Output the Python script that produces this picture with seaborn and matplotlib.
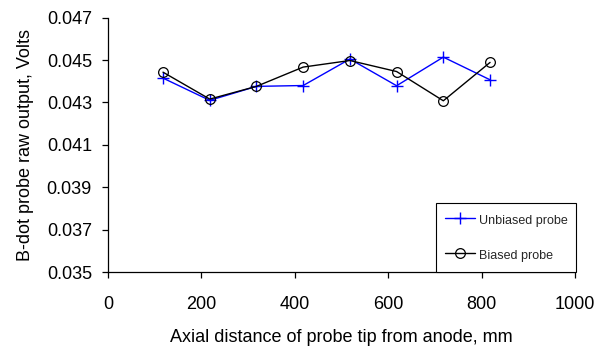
import matplotlib
matplotlib.use("Agg")
import matplotlib.pyplot as plt
import seaborn as sns
import pandas as pd

# Probe positions along the axis (mm) and measured B-dot outputs (V)
distance_mm = [118, 218, 318, 418, 518, 618, 718, 818]
unbiased_v = [0.04415, 0.0431, 0.04376, 0.0438, 0.04505, 0.04379, 0.04514, 0.04407]
biased_v = [0.04443, 0.04316, 0.04376, 0.04467, 0.04498, 0.04446, 0.04308, 0.04489]

x_ticks = [0, 200, 400, 600, 800, 1000]
y_ticks = [0.035, 0.037, 0.039, 0.041, 0.043, 0.045, 0.047]

sns.set_theme(style="ticks")
plt.rcParams["font.family"] = ["Liberation Sans", "DejaVu Sans"]

df_unb = pd.DataFrame({"x": distance_mm, "y": unbiased_v})
df_bia = pd.DataFrame({"x": distance_mm, "y": biased_v})

fig = plt.figure(figsize=(6.06, 3.47), dpi=100)
ax = fig.add_axes([0.178, 0.216, 0.771, 0.733])

sns.lineplot(data=df_unb, x="x", y="y", ax=ax, color="#0000ff", lw=1.0,
             marker="+", markersize=9, markeredgewidth=1.0,
             markeredgecolor="#0000ff", label="Unbiased probe")
sns.lineplot(data=df_bia, x="x", y="y", ax=ax, color="black", lw=1.0,
             marker="o", markersize=7, markerfacecolor="none",
             markeredgecolor="black", markeredgewidth=0.9,
             label="Biased probe")

ax.set_xlim(0, 1000)
ax.set_ylim(0.035, 0.047)
ax.set_xticks(x_ticks)
ax.set_yticks(y_ticks)
ax.set_xticklabels([str(t) for t in x_ticks])
ax.set_yticklabels([f"{t:.3f}" for t in y_ticks])

for side in ("top", "right"):
    ax.spines[side].set_visible(False)
for side in ("left", "bottom"):
    ax.spines[side].set_color("black")
    ax.spines[side].set_linewidth(0.9)

ax.tick_params(axis="both", direction="out", length=4.5, width=0.9,
               color="black", labelsize=13, labelcolor="black",
               bottom=True, left=True)
ax.tick_params(axis="y", pad=7)
ax.tick_params(axis="x", pad=13)

ax.set_xlabel("Axial distance of probe tip from anode, mm", fontsize=13,
              color="black", labelpad=11)
ax.set_ylabel("B-dot probe raw output, Volts", fontsize=13,
              color="black", labelpad=9)

leg = ax.legend(loc="lower right", bbox_to_anchor=(1.002, 0.0), fontsize=9,
                frameon=True, fancybox=False, numpoints=1, handlelength=2.4,
                handleheight=1.6, handletextpad=0.3, borderpad=0.7,
                labelspacing=1.55, borderaxespad=0.0)
leg.get_frame().set_edgecolor("black")
leg.get_frame().set_linewidth(0.8)
leg.get_frame().set_alpha(1.0)

fig.savefig("out.png", dpi=100, facecolor="white")
